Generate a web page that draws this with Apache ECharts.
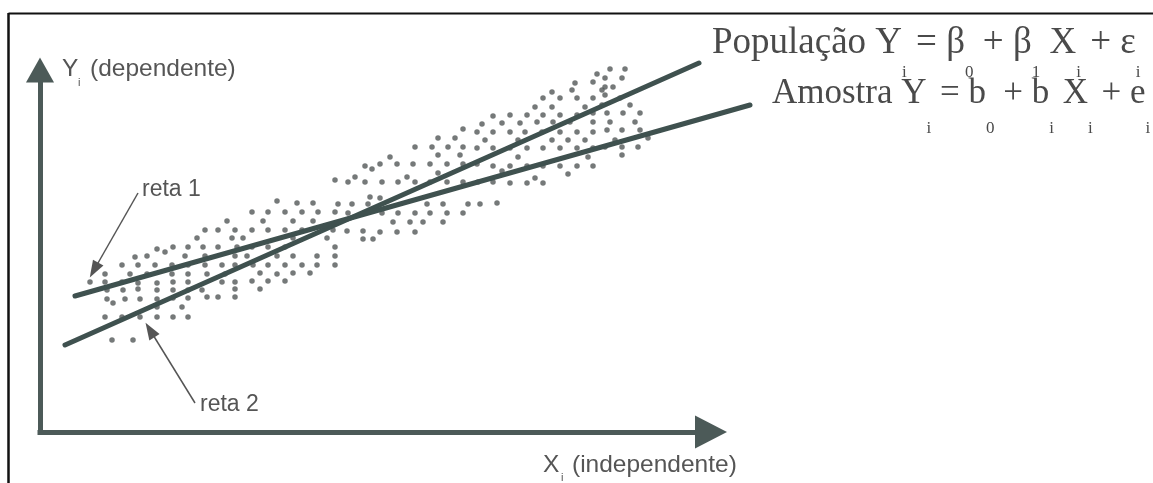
<!DOCTYPE html>
<html>
<head>
<meta charset="utf-8">
<script src="https://cdn.jsdelivr.net/npm/echarts@6/dist/echarts.min.js"></script>
<style>
html,body{margin:0;padding:0;background:#fff;}
#chart{width:1153px;height:483px;}
</style>
</head>
<body>
<div id="chart"></div>
<script>
// Scatter cloud (X, Y) in axis units
const cloudPoints = [
[295,252],[237,231],[257,229],[273,229],
[212,220],[228,220],[245,220],[262,220],[278,220],[295,220],
[187,211],[223,211],[253,211],[273,211],
[165,202],[178,202],[195,202],[212,202],[228,202],[245,202],[262,202],[293,202],
[157,194],[192,194],[203,194],[253,194],[287,194],
[133,185],[148,185],[163,185],[178,185],[197,185],[212,185],[228,185],[245,185],[295,185],
[117,183],[125,180],
[95,175],[107,176],[145,176],[165,176],[195,176],[207,176],[237,176],[253,176],[277,176],[295,176],
[82,167],[98,167],[115,167],[132,167],[148,167],[165,167],[182,167],[195,167],[213,167],[228,167],[245,167],[262,167],[277,167],[295,167],
[65,158],[90,158],[107,158],[132,158],[148,158],[167,158],[185,158],[220,159],[237,158],[253,159],[270,159],
[50,150],[65,150],[82,150],[98,149],[117,149],[133,150],[148,150],[182,150],[195,150],[212,151],[228,151],[245,151],
[67,142],[83,142],[98,143],[117,142],[133,142],[148,142],[162,142],[195,143],[220,143],
[67,133],[73,129],[85,133],[100,133],[117,133],[133,134],[148,134],[167,135],[178,135],[195,135],
[117,125],[142,125],
[65,115],[82,115],[100,115],[117,115],[133,115],[148,115],
[72,92],[93,92],
[570,363],[585,363],[557,358],[565,354],[582,354],[535,349],[553,350],[565,345],[573,345],
[512,340],[532,342],[562,342],[565,337],
[503,334],[520,334],[537,334],[553,334],[580,334],
[590,327],[562,327],[495,325],[512,325],[545,325],
[453,316],[470,317],[487,317],[503,317],[520,317],[537,317],[553,319],[567,319],[583,319],[600,319],
[442,308],[462,309],[480,309],[497,310],[513,310],[530,310],[553,310],[570,310],[595,310],
[423,303],[437,300],[453,300],[470,300],[485,300],[502,300],[520,300],[537,300],[553,300],[567,302],[582,302],[600,302],
[398,294],[415,294],[445,292],[478,292],[512,292],[528,292],[545,292],[575,292],[608,294],
[375,285],[392,285],[408,285],[423,285],[437,284],[453,284],[470,284],[487,284],[503,284],[520,284],[537,284],[553,284],[565,285],[582,285],[598,285],
[398,277],[420,277],[478,275],[548,275],[582,277],[350,275],
[325,266],[340,268],[357,268],[373,268],[390,268],[407,268],[423,268],[437,268],[453,266],[470,266],[487,266],[503,266],[520,266],[537,266],[553,266],
[332,263],[462,261],[398,259],[528,258],
[308,250],[315,255],[325,250],[342,250],[358,250],[367,255],[375,250],[390,250],[407,250],[423,250],[438,250],[453,250],[470,249],[487,249],[495,254],[503,249],
[330,235],[340,234],
[298,228],[312,228],[328,228],[387,228],[403,228],[428,228],[440,228],[457,229],
[308,219],[325,219],[342,219],[358,219],[375,219],[390,219],[407,219],[423,219],
[353,210],[370,210],[383,210],[403,210],
[307,201],[323,201],[340,200],[357,200],[375,200],
[323,193],[333,193]
];
// Population regression line (reta 2) and sample line (reta 1): end points
const populationLine = [[25,87],[659,369]];
const sampleLine = [[35,136],[710,327]];
// Annotation pointers: [from, to]
const pointerReta1 = [[98,239],[54,162]];
const pointerReta2 = [[155,29],[110,102]];
// Texts
const yAxisTitle = ['Y', 'i', '(dependente)'];
const xAxisTitle = ['X', 'i', '(independente)'];
const labelReta1 = 'reta 1';
const labelReta2 = 'reta 2';
const formulaPopulation = '{m|População Y}{s|i}{m| = β}{s|0}{m| + β}{s|1}{m| X}{s|i}{m| + ε}{s|i}';
const formulaSample = '{m|Amostra Y}{s|i}{m| = b}{s|0}{m| + b}{s|i}{m| X}{s|i}{m| + e}{s|i}';

const AX = '#4c5a58';
const LN = '#3f514f';
const DOT = '#525858';
const TXT = '#555555';
const FTX = '#4a4a4a';
const SANS = '"Liberation Sans", Arial, sans-serif';
const SERIF = '"Liberation Serif", "Times New Roman", serif';

const chart = echarts.init(document.getElementById('chart'), null, {renderer: 'canvas'});

function pointer(pts) {
  return {
    silent: true,
    symbol: ['none', 'triangle'],
    symbolSize: [12, 17],
    label: {show: false},
    lineStyle: {color: '#555', width: 1.5, type: 'solid'},
    emphasis: {disabled: true},
    animation: false,
    data: [[{coord: pts[0]}, {coord: pts[1]}]]
  };
}
const hiddenAxis = {
  axisLine: {show: false}, axisTick: {show: false}, axisLabel: {show: false}, splitLine: {show: false}
};

chart.setOption({
  animation: false,
  backgroundColor: '#fff',
  grid: [
    // visible axes (same 1 unit = 1 px scale as the data grid)
    {left: 40, top: 70, right: 442, bottom: 51, containLabel: false},
    // data area sharing the origin, wide enough for all marks
    {left: 40, top: 0, right: 0, bottom: 51, containLabel: false}
  ],
  xAxis: [
    {
      type: 'value', gridIndex: 0, min: 0, max: 671,
      axisLine: {show: true, onZero: false, symbol: ['none', 'triangle'], symbolSize: [33, 32],
        lineStyle: {color: AX, width: 5, cap: 'square'}},
      axisTick: {show: false}, axisLabel: {show: false}, splitLine: {show: false}
    },
    Object.assign({type: 'value', gridIndex: 1, min: 0, max: 1113}, hiddenAxis)
  ],
  yAxis: [
    {
      type: 'value', gridIndex: 0, min: 0, max: 362,
      axisLine: {show: true, onZero: false, symbol: ['none', 'triangle'], symbolSize: [28, 25],
        lineStyle: {color: AX, width: 5, cap: 'square'}},
      axisTick: {show: false}, axisLabel: {show: false}, splitLine: {show: false}
    },
    Object.assign({type: 'value', gridIndex: 1, min: 0, max: 432}, hiddenAxis)
  ],
  series: [
    {
      type: 'scatter', xAxisIndex: 1, yAxisIndex: 1, data: cloudPoints, symbol: 'circle', symbolSize: 5.5,
      itemStyle: {color: DOT}, silent: true, z: 2
    },
    {
      type: 'line', xAxisIndex: 1, yAxisIndex: 1, data: populationLine, symbol: 'none', silent: true, z: 3,
      lineStyle: {color: LN, width: 5, cap: 'round'},
      markLine: pointer(pointerReta2)
    },
    {
      type: 'line', xAxisIndex: 1, yAxisIndex: 1, data: sampleLine, symbol: 'none', silent: true, z: 3,
      lineStyle: {color: LN, width: 5, cap: 'round'},
      markLine: pointer(pointerReta1)
    }
  ],
  graphic: [
    {type: 'line', silent: true, shape: {x1: 8.5, y1: 13.5, x2: 1153, y2: 13.5}, style: {stroke: '#111', lineWidth: 2}},
    {type: 'line', silent: true, shape: {x1: 8.5, y1: 13, x2: 8.5, y2: 483}, style: {stroke: '#111', lineWidth: 2.5}},
    {type: 'text', silent: true, style: {x: 62, y: 69, text: yAxisTitle[0], font: '24.5px ' + SANS, fill: TXT, verticalAlign: 'middle'}},
    {type: 'text', silent: true, style: {x: 78, y: 82.5, text: yAxisTitle[1], font: '11px ' + SANS, fill: TXT, verticalAlign: 'middle'}},
    {type: 'text', silent: true, style: {x: 90, y: 69, text: yAxisTitle[2], font: '24.5px ' + SANS, fill: TXT, verticalAlign: 'middle'}},
    {type: 'text', silent: true, style: {x: 543, y: 465, text: xAxisTitle[0], font: '24.5px ' + SANS, fill: TXT, verticalAlign: 'middle'}},
    {type: 'text', silent: true, style: {x: 561, y: 478, text: xAxisTitle[1], font: '11px ' + SANS, fill: TXT, verticalAlign: 'middle'}},
    {type: 'text', silent: true, style: {x: 572, y: 465, text: xAxisTitle[2], font: '24.5px ' + SANS, fill: TXT, verticalAlign: 'middle'}},
    {type: 'text', silent: true, style: {x: 142, y: 190, text: labelReta1, font: '23px ' + SANS, fill: TXT, verticalAlign: 'middle'}},
    {type: 'text', silent: true, style: {x: 200, y: 405, text: labelReta2, font: '23px ' + SANS, fill: TXT, verticalAlign: 'middle'}},
    {type: 'text', silent: true, style: {
      x: 712, y: 25, verticalAlign: 'top',
      text: formulaPopulation,
      font: '37px ' + SERIF, fill: FTX,
      rich: {
        m: {fontSize: 37, fontFamily: SERIF, fill: FTX, lineHeight: 38, verticalAlign: 'top'},
        s: {fontSize: 17, fontFamily: SERIF, fill: FTX, lineHeight: 17, verticalAlign: 'top', padding: [39, 0, 0, 0]}
      }
    }},
    {type: 'text', silent: true, style: {
      x: 772, y: 76, verticalAlign: 'top',
      text: formulaSample,
      font: '35px ' + SERIF, fill: FTX,
      rich: {
        m: {fontSize: 35, fontFamily: SERIF, fill: FTX, lineHeight: 36, verticalAlign: 'top'},
        s: {fontSize: 17, fontFamily: SERIF, fill: FTX, lineHeight: 17, verticalAlign: 'top', padding: [44, 0, 0, 0]}
      }
    }}
  ]
});
</script>
</body>
</html>
